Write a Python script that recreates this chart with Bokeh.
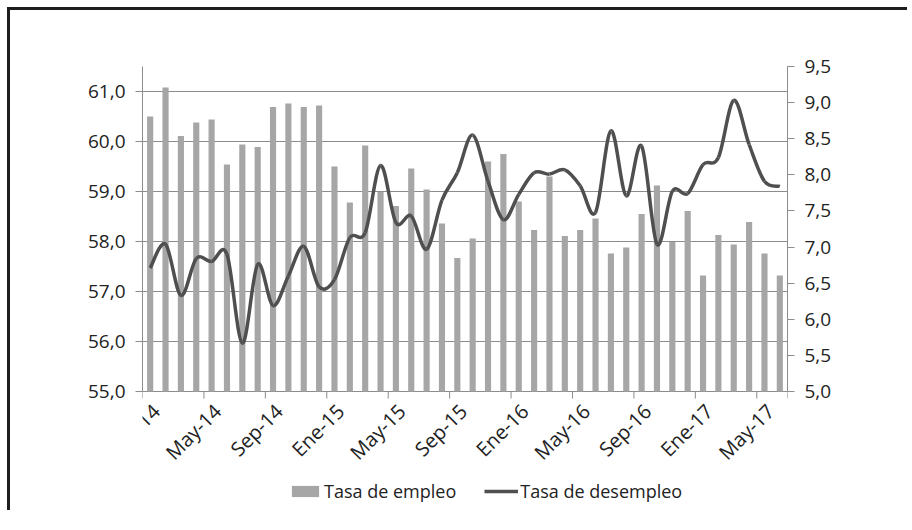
import numpy as np
from bokeh.plotting import figure
from bokeh.models import (Range1d, LinearAxis, FixedTicker, Legend, LegendItem,
                          CustomJSTickFormatter)
from bokeh.core.properties import value
from bokeh.embed import file_html
from bokeh.resources import INLINE

# ---- data ----
months = ["Ene-14", "Feb-14", "Mar-14", "Abr-14", "May-14", "Jun-14", "Jul-14", "Ago-14",
          "Sep-14", "Oct-14", "Nov-14", "Dic-14",
          "Ene-15", "Feb-15", "Mar-15", "Abr-15", "May-15", "Jun-15", "Jul-15", "Ago-15",
          "Sep-15", "Oct-15", "Nov-15", "Dic-15",
          "Ene-16", "Feb-16", "Mar-16", "Abr-16", "May-16", "Jun-16", "Jul-16", "Ago-16",
          "Sep-16", "Oct-16", "Nov-16", "Dic-16",
          "Ene-17", "Feb-17", "Mar-17", "Abr-17", "May-17", "Jun-17"]

tasa_empleo = [60.50, 61.08, 60.11, 60.38, 60.44, 59.54, 59.94, 59.89, 60.69, 60.76,
               60.69, 60.72, 59.50, 58.78, 59.92, 58.99, 58.71, 59.46, 59.04, 58.36,
               57.67, 58.06, 59.60, 59.75, 58.80, 58.23, 59.30, 58.11, 58.23, 58.46,
               57.76, 57.88, 58.55, 59.12, 57.99, 58.61, 57.32, 58.13, 57.94, 58.39,
               57.76, 57.32]

tasa_desempleo = [6.71, 7.04, 6.33, 6.84, 6.80, 6.90, 5.67, 6.76, 6.19, 6.60,
                  7.01, 6.45, 6.55, 7.13, 7.20, 8.13, 7.34, 7.43, 6.97, 7.65,
                  8.03, 8.55, 7.91, 7.38, 7.73, 8.03, 8.01, 8.07, 7.85, 7.48,
                  8.61, 7.71, 8.40, 7.04, 7.77, 7.74, 8.14, 8.24, 9.03, 8.42,
                  7.91, 7.84]

tick_labels = ["Ene-14", "May-14", "Sep-14", "Ene-15", "May-15", "Sep-15",
               "Ene-16", "May-16", "Sep-16", "Ene-17", "May-17"]

left_ticks = [55, 56, 57, 58, 59, 60, 61]
right_ticks = [5.0, 5.5, 6.0, 6.5, 7.0, 7.5, 8.0, 8.5, 9.0, 9.5]

# ---- style / layout constants ----
FONT = "Open Sans"
TXT = "#222222"
BAR = "#a6a6a6"
LINE = "#4f4f4f"
GRID = "#8c8c8c"
L_MIN, L_MAX = 55.0, 61.5
R_MIN, R_MAX = 5.0, 9.5
CHART_H = 325      # px of the value area
EXTRA_H = 114      # px below the value area (month labels + legend)
TICK_PX = 7

l_per_px = (L_MAX - L_MIN) / CHART_H
r_per_px = (R_MAX - R_MIN) / CHART_H

n = len(months)
xs = np.arange(1, n + 1)
label_pos = [i + 1 for i, m in enumerate(months) if m in tick_labels]
boundaries = [q - 0.5 for q in label_pos] + [n + 0.5]

p = figure(output_backend="svg", toolbar_location=None,
           x_axis_location=None, y_axis_location=None,
           x_range=Range1d(0.5, n + 0.5),
           y_range=Range1d(L_MIN - EXTRA_H * l_per_px, L_MAX),
           frame_width=645, frame_height=CHART_H + EXTRA_H,
           min_border_left=132, min_border_top=56, min_border_right=120, min_border_bottom=5,
           styles={"border-left": "3px solid #1e1e1e", "border-top": "3px solid #1e1e1e",
                   "margin-left": "7px", "margin-top": "7px"})
p.outline_line_color = None
p.xgrid.visible = False
p.ygrid.ticker = FixedTicker(ticks=left_ticks)
p.ygrid.grid_line_color = GRID
p.ygrid.grid_line_width = 1

p.extra_y_ranges = {"right": Range1d(R_MIN - EXTRA_H * r_per_px, R_MAX)}

fmt_code = "return tick.toFixed(1).replace('.', ',');"
ly = LinearAxis(ticker=FixedTicker(ticks=left_ticks), bounds=(L_MIN, L_MAX),
                formatter=CustomJSTickFormatter(code=fmt_code))
ry = LinearAxis(y_range_name="right", ticker=FixedTicker(ticks=right_ticks),
                bounds=(R_MIN, R_MAX),
                formatter=CustomJSTickFormatter(code=fmt_code))
for ax in (ly, ry):
    ax.axis_line_color = GRID
    ax.axis_line_width = 1
    ax.major_tick_line_color = GRID
    ax.major_tick_in = 0
    ax.major_tick_out = TICK_PX
    ax.minor_tick_line_color = None
    ax.major_label_text_font = FONT
    ax.major_label_text_font_size = "19px"
    ax.major_label_text_color = TXT
    ax.major_label_standoff = 10
p.add_layout(ly, "left")
p.add_layout(ry, "right")

# category axis: tick marks between groups of four months, rotated month labels
p.segment(x0=boundaries, y0=[L_MIN] * len(boundaries),
          x1=boundaries, y1=[L_MIN - TICK_PX * l_per_px] * len(boundaries),
          line_color=GRID, line_width=1)
p.text(x=label_pos, y=[L_MIN] * len(label_pos), text=tick_labels,
       angle=np.pi / 4, text_align="right", text_baseline="middle",
       x_offset=6, y_offset=16,
       text_font=value(FONT), text_font_size=value("20px"), text_color=TXT)

bars = p.vbar(x=xs, top=tasa_empleo, bottom=L_MIN, width=0.4, fill_color=BAR, line_color=None)

# smoothed line (Bezier segments, control points derived from the data)
y = np.array(tasa_desempleo)
x = xs.astype(float)
xp = np.concatenate([[x[0]], x, [x[-1]]])
yp = np.concatenate([[y[0]], y, [y[-1]]])
x0, y0 = x[:-1], y[:-1]
x1, y1 = x[1:], y[1:]
cx0 = x0 + (xp[2:-1] - xp[0:-3]) / 6.0
cy0 = y0 + (yp[2:-1] - yp[0:-3]) / 6.0
cx1 = x1 - (xp[3:] - xp[1:-2]) / 6.0
cy1 = y1 - (yp[3:] - yp[1:-2]) / 6.0
p.bezier(x0=x0, y0=y0, x1=x1, y1=y1, cx0=cx0, cy0=cy0, cx1=cx1, cy1=cy1,
         line_color=LINE, line_width=3.5, y_range_name="right")
# legend-only line renderer (no visible points)
legline = p.line(x=np.array([np.nan]), y=np.array([np.nan]), line_color=LINE,
                 line_width=3.5, y_range_name="right")

leg = Legend(items=[LegendItem(label="Tasa de empleo", renderers=[bars]),
                    LegendItem(label="Tasa de desempleo", renderers=[legline])],
             orientation="horizontal", location=(146, 2),
             glyph_width=34, glyph_height=14, label_standoff=2, spacing=28,
             padding=0, margin=0, border_line_color=None, background_fill_alpha=0,
             label_text_font=FONT, label_text_font_size="18px", label_text_color=TXT)
p.add_layout(leg, "center")

open("out.html", "w").write(file_html(p, INLINE))
